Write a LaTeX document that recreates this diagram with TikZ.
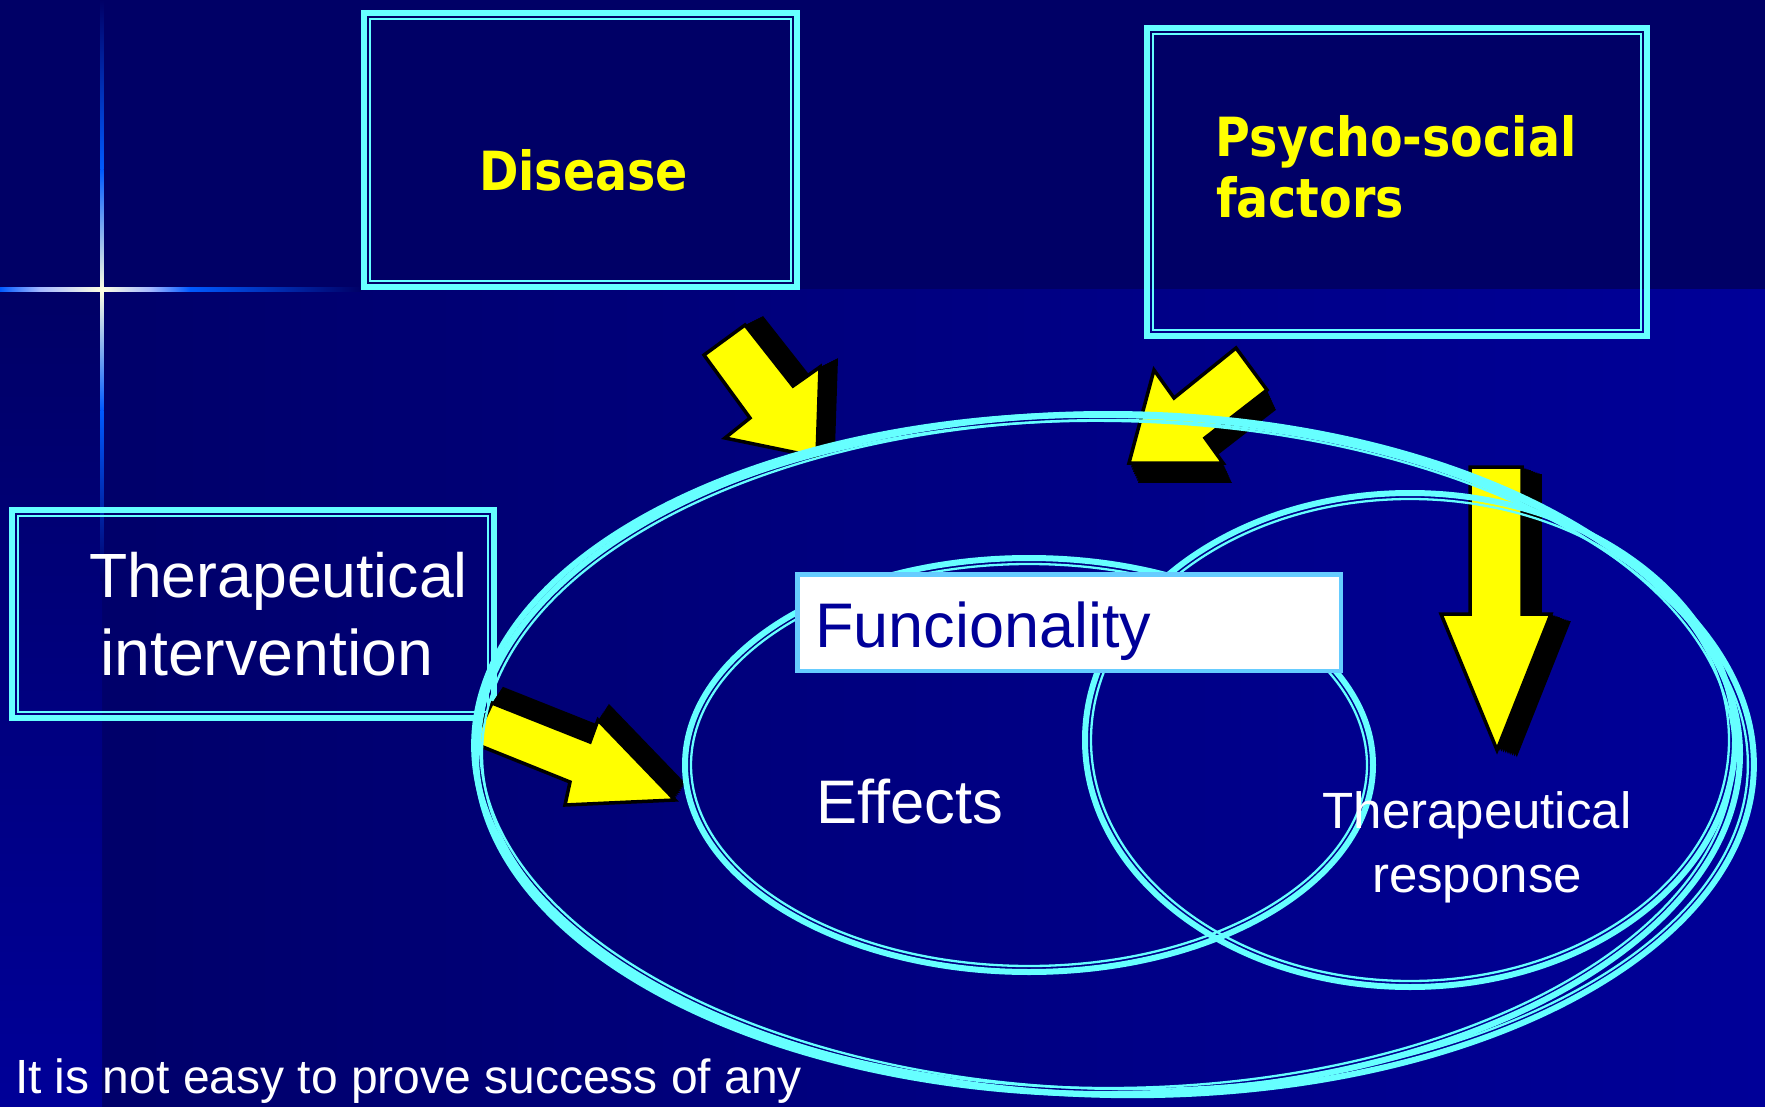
\documentclass[tikz,border=0pt]{standalone}
\usepackage{fontspec}
\setmainfont{Liberation Sans}
\newfontfamily\boldfont[FakeStretch=0.88]{DejaVu Sans}
\definecolor{topbg}{RGB}{0,0,102}
\definecolor{lowleft}{RGB}{0,0,106}
\definecolor{lowright}{RGB}{0,0,152}
\definecolor{cyanl}{RGB}{102,255,255}
\definecolor{funcborder}{RGB}{102,204,255}
\definecolor{functext}{RGB}{0,0,153}
\definecolor{crossw}{RGB}{255,255,225}
\definecolor{crossb}{RGB}{0,90,255}
\definecolor{crossl}{RGB}{165,185,255}
\definecolor{yel}{RGB}{255,255,0}
\newcommand{\dframe}[4]{%
  \draw[cyanl,line width=6] ({#1+3},{#2+3}) rectangle ({#3-3},{#4-3});
  \draw[cyanl,line width=2] ({#1+9},{#2+9}) rectangle ({#3-9},{#4-9});}
\newcommand{\arrowDis}[1]{\path[#1] (704,355) -- (745,325) -- (793,386) -- (820,367) -- (817,457) -- (725,438) -- (750,418) -- cycle;}
\newcommand{\arrowPsy}[1]{\path[#1] (1236,348) -- (1267,390) -- (1205,438) -- (1223,463) -- (1129,463) -- (1154,370) -- (1174,398) -- cycle;}
\newcommand{\arrowRes}[1]{\path[#1] (1470,467) -- (1522,467) -- (1522,614) -- (1551,614) -- (1497,750) -- (1441,614) -- (1470,614) -- cycle;}
\newcommand{\arrowInt}[1]{\path[#1] (492,703) -- (590,742) -- (598,720) -- (675,800) -- (565,805) -- (570,782) -- (473,743) -- cycle;}
\tikzset{
  txt/.style={inner sep=0pt, outer sep=0pt, text=white},
  boldtxt/.style={inner sep=0pt, outer sep=0pt, text=yel, font=\boldfont\bfseries\fontsize{54}{60}\selectfont},
  yelarrow/.style={fill=yel, draw=black, line width=3.5, line join=miter},
  ringthick/.style={draw=cyanl, line width=6},
  ringthin/.style={draw=cyanl, line width=2.3}
}
\begin{document}
\begin{tikzpicture}[x=1pt,y=-1pt]
\useasboundingbox (0,0) rectangle (1765,1107);
% background
\fill[topbg] (0,0) rectangle (1765,290);
\shade[left color=lowleft, right color=lowright] (102,290) rectangle (1765,1107);
\shade[top color=topbg, bottom color=lowright] (0,290) rectangle (102,1107);
% cross, vertical
\shade[top color=topbg, bottom color=crossb] (100.3,0) rectangle (103.7,170);
\shade[top color=crossb, bottom color=crossw] (100.3,170) rectangle (103.7,290);
\shade[top color=crossw, bottom color=crossb] (100.3,290) rectangle (103.7,410);
\shade[top color=crossb, bottom color=lowleft] (100.3,410) rectangle (103.7,580);
% cross, horizontal
\shade[left color=crossb, right color=crossl] (0,288) rectangle (40,292);
\shade[left color=crossl, right color=crossw] (40,288) rectangle (102,292);
\shade[left color=crossw, right color=crossl] (102,288) rectangle (150,292);
\shade[left color=crossl, right color=crossb] (150,288) rectangle (190,292);
\shade[left color=crossb, right color=topbg] (190,288) rectangle (361,292);
% framed boxes
\dframe{361}{10}{800}{290}
\dframe{1144}{25}{1650}{339}
\dframe{9}{507}{497}{721}
% arrows: shadows
\foreach \stp in {0,0.1,...,1.0} {
  \arrowDis{fill=black, shift={({\stp*20},{-\stp*10})}}
  \arrowPsy{fill=black, shift={({\stp*10},{\stp*22})}}
  \arrowRes{fill=black, shift={({\stp*22},{\stp*8})}}
  \arrowInt{fill=black, shift={({\stp*12},{-\stp*18})}}
}
\arrowDis{yelarrow}
\arrowPsy{yelarrow}
\arrowRes{yelarrow}
\arrowInt{yelarrow}
% ellipses
\draw[ringthick] (1108,754) ellipse [x radius=632, y radius=340];
\draw[ringthin]  (1108,754) ellipse [x radius=626, y radius=334];
\draw[ringthick, rotate around={-1.2:(1114,755)}] (1114,755) ellipse [x radius=640, y radius=340];
\draw[ringthin, rotate around={-1.2:(1114,755)}]  (1114,755) ellipse [x radius=634, y radius=334];
\draw[ringthick] (1029,765) ellipse [x radius=344, y radius=207];
\draw[ringthin]  (1029,765) ellipse [x radius=338, y radius=201];
\draw[ringthick] (1410,740) ellipse [x radius=325, y radius=247];
\draw[ringthin]  (1410,740) ellipse [x radius=319, y radius=241];
% Funcionality box
\filldraw[fill=white, draw=funcborder, line width=4.5] (797.25,574.25) rectangle (1340.75,670.75);
% texts
\node[boldtxt, anchor=base west] (dis) at (479,191) {Disease};
\node[boldtxt, anchor=base west] (psy1) at (1215,157) {Psycho-social};
\node[boldtxt, anchor=base west] (psy2) at (1216,218) {factors};
\node[txt, anchor=base west, font=\fontsize{62.5}{70}\selectfont] (ti1) at (89,597) {Therapeutical};
\node[txt, anchor=base west, font=\fontsize{64.5}{70}\selectfont] (ti2) at (100,675) {intervention};
\node[txt, anchor=base west, text=functext, font=\fontsize{63}{70}\selectfont] (fun) at (815,647) {Funcionality};
\node[txt, anchor=base west, font=\fontsize{61.5}{70}\selectfont] (eff) at (816,823) {Effects};
\node[txt, anchor=base, font=\fontsize{51}{60}\selectfont] (tr1) at (1477,828) {Therapeutical};
\node[txt, anchor=base, font=\fontsize{51}{60}\selectfont] (tr2) at (1477,892) {response};
\node[txt, anchor=base west, font=\fontsize{48}{55}\selectfont] (bot) at (15,1093) {It is not easy to prove success of any};
\end{tikzpicture}
\end{document}
